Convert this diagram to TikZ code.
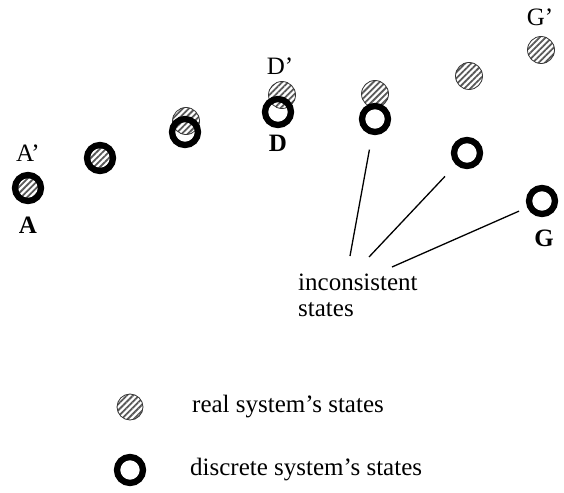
\documentclass[tikz,border=0pt]{standalone}
\usepackage{fontspec}
\setmainfont{Liberation Serif}
\usetikzlibrary{patterns.meta}

\begin{document}
\begin{tikzpicture}[x=1pt,y=-1pt,
  realst/.style={circle, draw=black!80, line width=0.8pt, minimum size=27pt, inner sep=0pt,
    pattern={Lines[angle=45,distance=4.3pt,line width=1.8pt]}, pattern color=black!65},
  discst/.style={circle, draw=black, line width=6.3pt, minimum size=26pt, inner sep=0pt},
  lbl/.style={font=\fontsize{25}{26}\selectfont, inner sep=0pt},
  blbl/.style={lbl, font=\fontsize{25}{26}\selectfont\bfseries},
  conn/.style={draw=black, line width=1.3pt}
]
\useasboundingbox (0,0) rectangle (564,492);

% real system's states (drawn first, the discrete rings go on top)
\node[realst] (rA) at (28,188) {};
\node[realst] (rB) at (100,158) {};
\node[realst] (rC) at (186,121) {};
\node[realst] (rD) at (282,95) {};
\node[realst] (rE) at (375,94) {};
\node[realst] (rF) at (469,76) {};
\node[realst] (rG) at (541,50) {};

% discrete system's states
\node[discst] (dA) at (28,188) {};
\node[discst] (dB) at (100,158) {};
\node[discst] (dC) at (185,132) {};
\node[discst] (dD) at (278,112) {};
\node[discst] (dE) at (375,119) {};
\node[discst] (dF) at (467,153) {};
\node[discst] (dG) at (542,201) {};

% state labels
\node[lbl] (lAp) at (28,153) {A’};
\node[blbl] (lA) at (28,225) {A};
\node[lbl] (lDp) at (280,66) {D’};
\node[blbl] (lD) at (278,143) {D};
\node[lbl] (lGp) at (540,17) {G’};
\node[blbl] (lG) at (544,238) {G};

% inconsistent states annotation
\node[lbl, align=left, anchor=north west] (inc) at (298,274) {inconsistent\\states};
\coordinate (t1) at (350,256);
\coordinate (t2) at (369,257);
\coordinate (t3) at (392,267);
\draw[conn, shorten <=15pt] (dE) -- (t1);
\draw[conn, shorten <=16pt] (dF) -- (t2);
\draw[conn, shorten <=9pt] (dG) -- (t3);

% legend
\node[realst, minimum size=26pt] (legR) at (130,407) {};
\node[lbl, anchor=west] (legRt) at (192,407) {real system’s states};
\node[discst] (legD) at (130,470) {};
\node[lbl, anchor=west] (legDt) at (190,470) {discrete system’s states};
\end{tikzpicture}
\end{document}
